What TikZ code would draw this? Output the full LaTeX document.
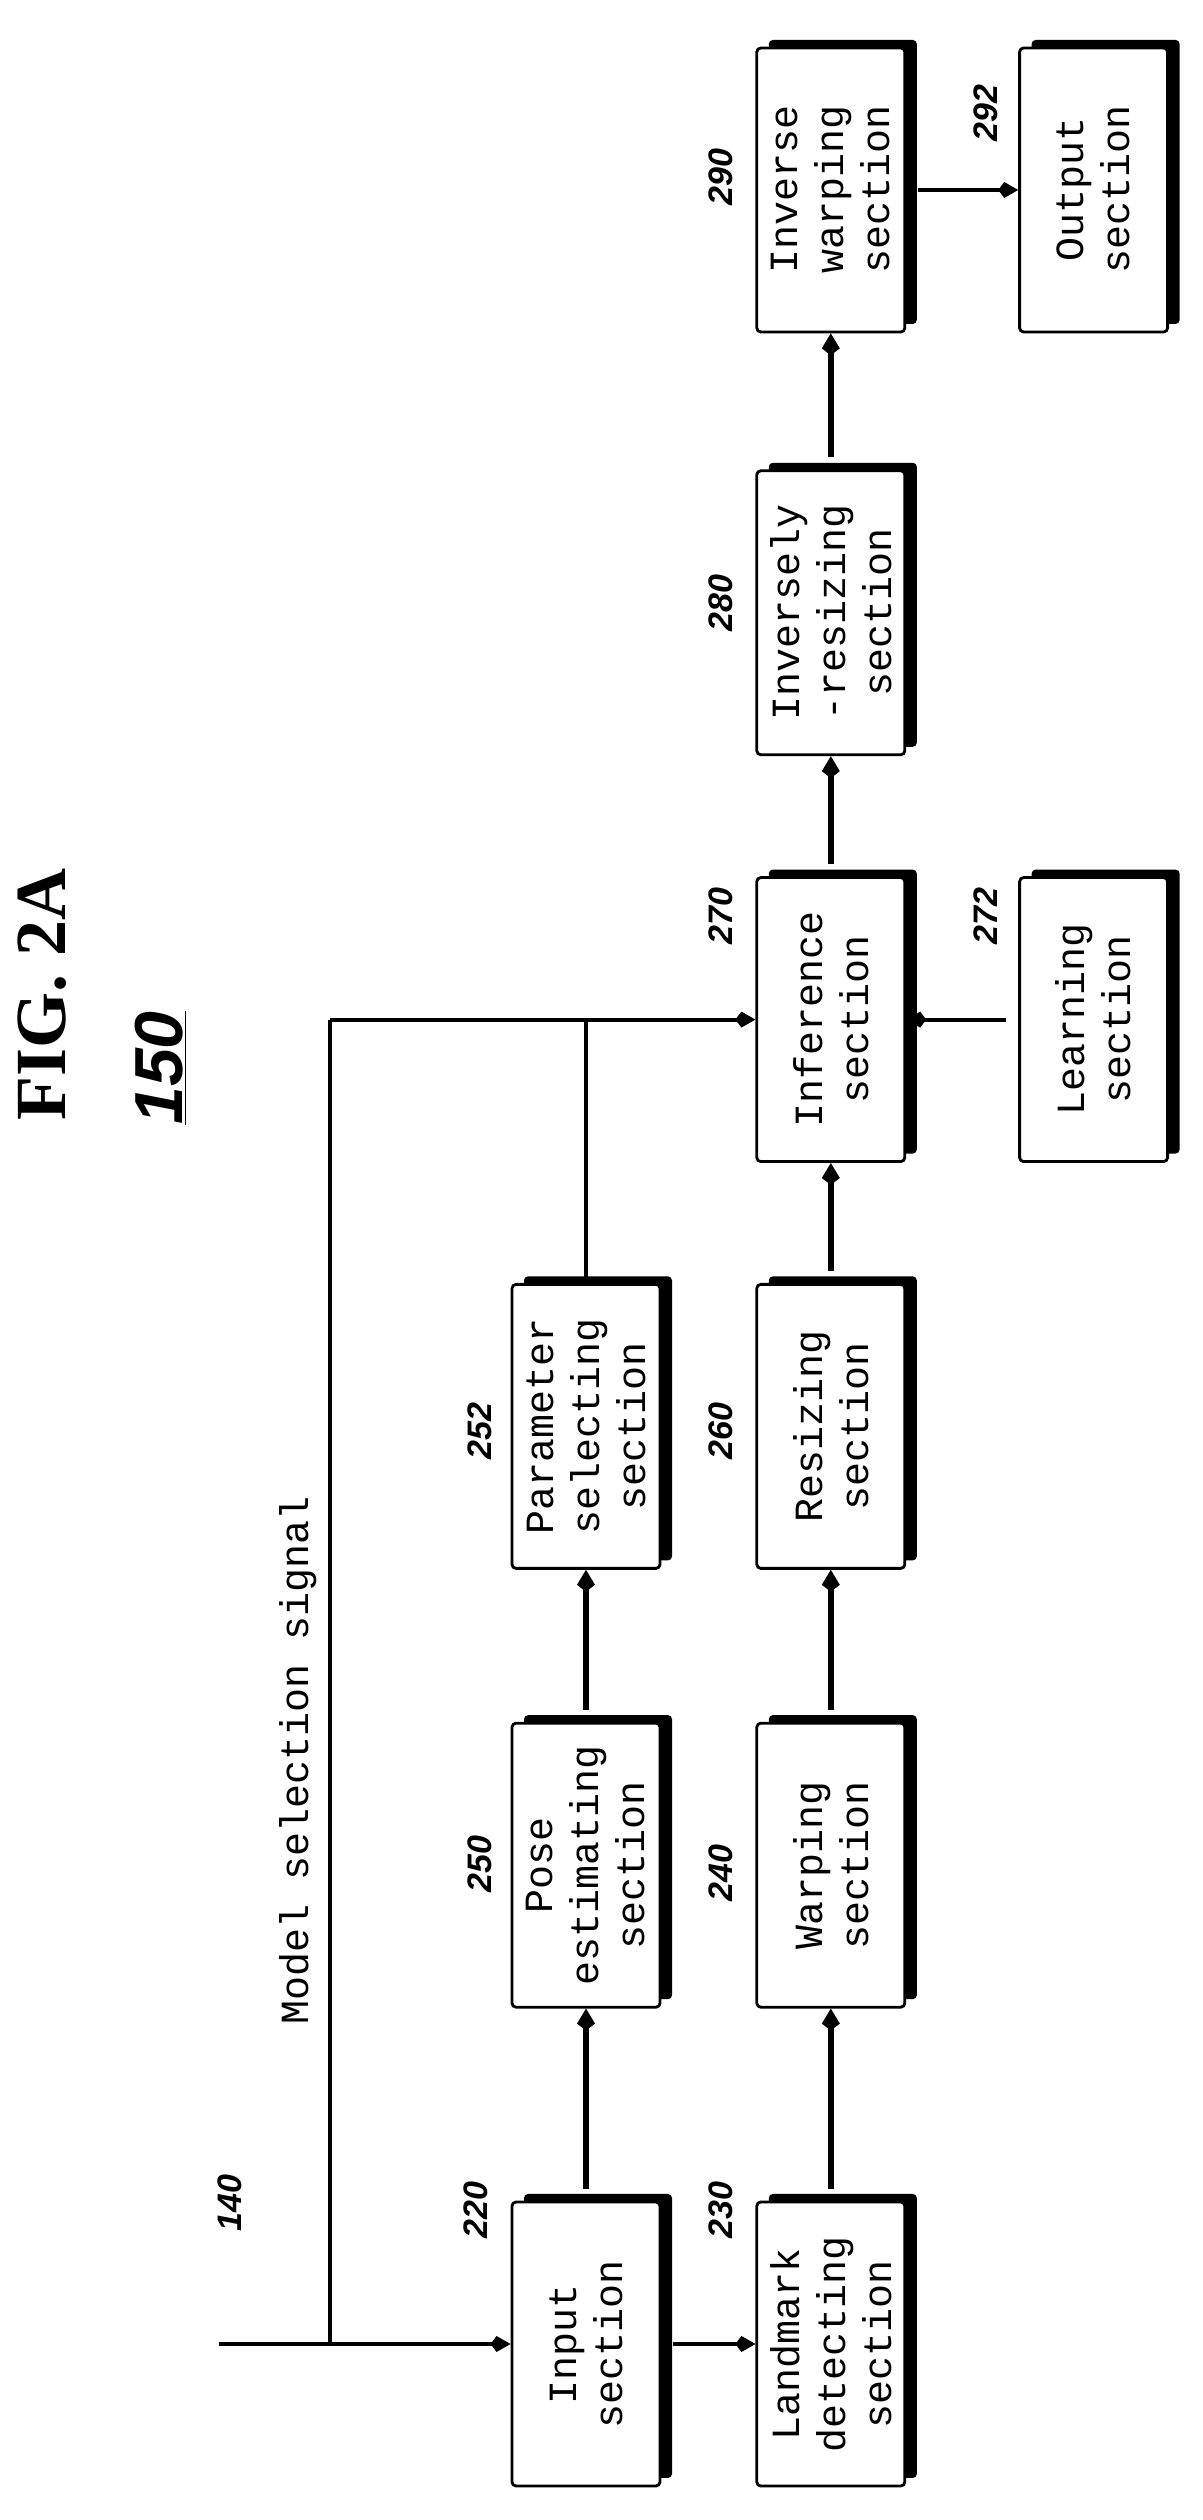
\documentclass[tikz,border=0pt]{standalone}
\usepackage{fontspec}
\setmainfont{Liberation Serif}
\newfontfamily\boxfont{Liberation Mono}
\newfontfamily\numfont{Liberation Sans}
\usetikzlibrary{arrows.meta, positioning, shadows}
\tikzstyle{block} = [rectangle, rounded corners=2pt, minimum width=142pt, minimum height=74pt, text centered, draw=black, line width=1.4pt, fill=white, align=center, font=\boxfont\fontsize{20}{23}\selectfont, drop shadow={shadow xshift=6pt, shadow yshift=4pt, opacity=1, fill=black}]
\tikzstyle{num} = [font=\numfont\bfseries\itshape\fontsize{17}{17}\selectfont]
\tikzstyle{line} = [line width=2pt]
\tikzstyle{arrow} = [line width=2pt, -{Kite[length=10pt, width=8pt, inset=3pt]}]
\tikzstyle{thickarrow} = [line width=3pt, shorten <=6pt, -{Kite[length=11pt, width=9pt, inset=3.5pt]}]

\begin{document}
\begin{tikzpicture}[x=0.5pt, y=0.5pt]
\begin{scope}[rotate=90, transform shape]
    \useasboundingbox (0,0) rectangle (2520,-1203);
    \node (title) at (1525,-42) {\bfseries\fontsize{36}{36}\selectfont FIG. 2A};
    \node (fignum) at (1452,-161) {\numfont\bfseries\itshape\fontsize{34}{34}\selectfont\underline{150}};

    \node (input) [block] at (176,-586) {Input\\section};
    \node (pose) [block, right=96pt of input] {Pose\\estimating\\section};
    \node (param) [block, right=76pt of pose] {Parameter\\selecting\\section};
    \node (landmark) [block, below=47pt of input] {Landmark\\detecting\\section};
    \node (warping) [block, below=47pt of pose] {Warping\\section};
    \node (resizing) [block, below=47pt of param] {Resizing\\section};
    \node (inference) [block, right=60pt of resizing] {Inference\\section};
    \node (learning) [block, below=56pt of inference] {Learning\\section};
    \node (invresize) [block, right=60pt of inference] {Inversely\\-resizing\\section};
    \node (invwarp) [block, right=68pt of invresize] {Inverse\\warping\\section};
    \node (output) [block, below=56pt of invwarp] {Output\\section};

    % reference numerals
    \node (n140) [num] at (317,-230) {140};
    \node (n220) [num] at (310,-476) {220};
    \node (n250) [num] at (656,-480) {250};
    \node (n252) [num] at (1089,-480) {252};
    \node (n230) [num] at (310,-721) {230};
    \node (n240) [num] at (647,-721) {240};
    \node (n260) [num] at (1089,-721) {260};
    \node (n270) [num] at (1604,-721) {270};
    \node (n272) [num] at (1604,-986) {272};
    \node (n280) [num] at (1917,-721) {280};
    \node (n290) [num] at (2343,-721) {290};
    \node (n292) [num] at (2407,-986) {292};

    % model selection signal
    \coordinate (src) at (176,-219);
    \coordinate (split) at (176,-330);
    \coordinate (corner) at (inference.north |- split);
    \node (msig) [font=\boxfont\fontsize{20}{20}\selectfont] at (760,-298) {Model selection signal};
    \draw [line] (src) -- (split) -- (corner);
    \draw [line] (param.east) -- (param.east -| corner);
    \draw [arrow] (split) -- (input);
    \draw [arrow] (corner) -- (inference);

    \draw [thickarrow] (input) -- (pose);
    \draw [thickarrow] (pose) -- (param);
    \draw [arrow, shorten <=6pt] (input) -- (landmark);
    \draw [thickarrow] (landmark) -- (warping);
    \draw [thickarrow] (warping) -- (resizing);
    \draw [thickarrow] (resizing) -- (inference);
    \draw [arrow, shorten <=6pt] (learning) -- (inference);
    \draw [thickarrow] (inference) -- (invresize);
    \draw [thickarrow] (invresize) -- (invwarp);
    \draw [arrow, shorten <=6pt] (invwarp) -- (output);
\end{scope}
\end{tikzpicture}
\end{document}
